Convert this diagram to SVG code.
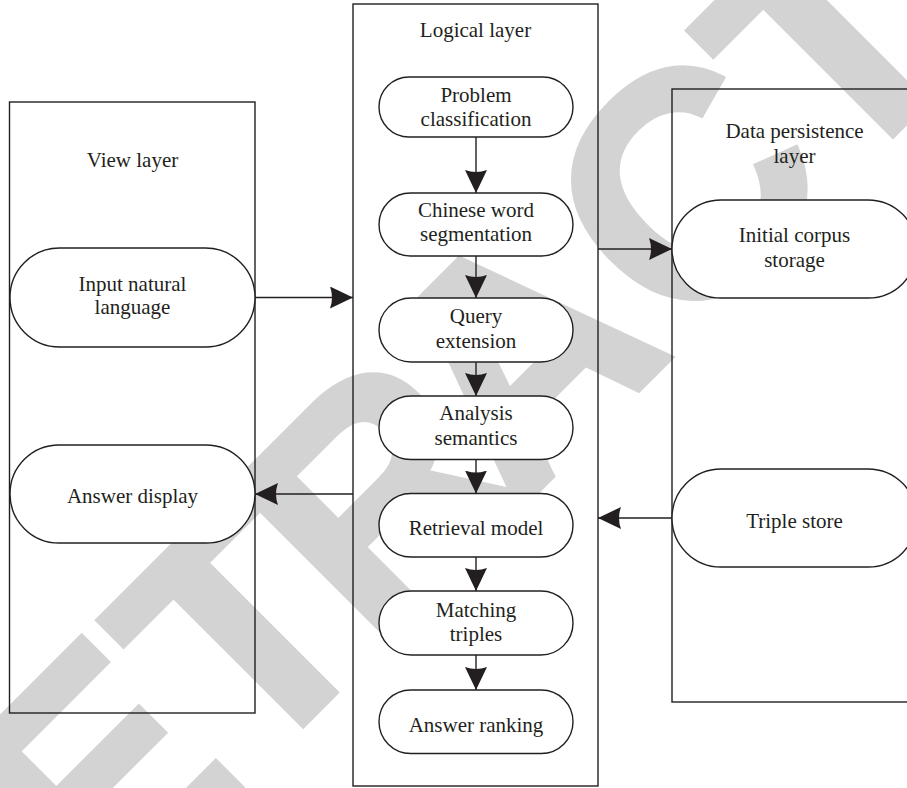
<svg xmlns="http://www.w3.org/2000/svg" width="907" height="788" viewBox="0 0 907 788">
<defs>
<style>
.box{fill:none;stroke:#231f20;stroke-width:1.4}
.pill{fill:#ffffff;stroke:#231f20;stroke-width:1.4}
.lbl{font-family:"Liberation Serif","Times New Roman",serif;font-size:21px;fill:#231f20;text-anchor:middle}
.conn line{stroke:#231f20;stroke-width:1.4;marker-end:url(#ah)}
.wm{font-family:"Liberation Sans",Arial,sans-serif;font-weight:bold;font-size:318px;fill:#d3d3d3;stroke:#d3d3d3;stroke-width:6;stroke-linejoin:miter}
</style>
<marker id="ah" markerUnits="userSpaceOnUse" viewBox="0 0 23 22" markerWidth="23" markerHeight="22" refX="23" refY="11" orient="auto">
<path d="M0,0 L23,11 L0,22 Q4,11 0,0 Z" fill="#231f20"/>
</marker>
</defs>
<rect width="907" height="788" fill="#ffffff"/>
<g id="watermark">
<text class="wm" transform="rotate(-45)" x="-798 -586 -372.5 -197 0 237 461.6 638 832" y="727">RETRACTED</text>
</g>
<g id="view-layer">
<rect class="box" x="9.5" y="102" width="245.5" height="611"/>
<text class="lbl" x="132.5" y="167">View layer</text>
</g>
<g id="logical-layer">
<rect class="box" x="353" y="4" width="245" height="782"/>
<text class="lbl" x="475.5" y="37">Logical layer</text>
</g>
<g id="data-layer">
<rect class="box" x="672" y="89" width="245" height="613"/>
<text class="lbl" x="794.5" y="138">Data persistence</text>
<text class="lbl" x="794.5" y="163">layer</text>
</g>
<g id="input-natural-language">
<rect class="pill" x="10" y="248" width="245" height="99" rx="49.5"/>
<text class="lbl" x="132.5" y="291">Input natural</text>
<text class="lbl" x="132.5" y="314">language</text>
</g>
<g id="answer-display">
<rect class="pill" x="10" y="445" width="245" height="98" rx="49"/>
<text class="lbl" x="132.5" y="503">Answer display</text>
</g>
<g id="problem-classification">
<rect class="pill" x="379" y="77" width="194" height="60" rx="30"/>
<text class="lbl" x="476" y="102">Problem</text>
<text class="lbl" x="476" y="126">classification</text>
</g>
<g id="chinese-word-segmentation">
<rect class="pill" x="379" y="193" width="194" height="63" rx="31.5"/>
<text class="lbl" x="476" y="217">Chinese word</text>
<text class="lbl" x="476" y="241">segmentation</text>
</g>
<g id="query-extension">
<rect class="pill" x="379" y="298" width="194" height="64" rx="32"/>
<text class="lbl" x="476" y="322.5">Query</text>
<text class="lbl" x="476" y="347.5">extension</text>
</g>
<g id="analysis-semantics">
<rect class="pill" x="379" y="396" width="194" height="63.5" rx="31.75"/>
<text class="lbl" x="476" y="420">Analysis</text>
<text class="lbl" x="476" y="445">semantics</text>
</g>
<g id="retrieval-model">
<rect class="pill" x="379" y="493.5" width="194" height="63.5" rx="31.75"/>
<text class="lbl" x="476" y="535">Retrieval model</text>
</g>
<g id="matching-triples">
<rect class="pill" x="379" y="591" width="194" height="64" rx="32"/>
<text class="lbl" x="476" y="617">Matching</text>
<text class="lbl" x="476" y="641">triples</text>
</g>
<g id="answer-ranking">
<rect class="pill" x="379" y="690" width="194" height="63.5" rx="31.75"/>
<text class="lbl" x="476" y="732">Answer ranking</text>
</g>
<g id="initial-corpus-storage">
<rect class="pill" x="672" y="200" width="245" height="98" rx="49"/>
<text class="lbl" x="794.5" y="241.5">Initial corpus</text>
<text class="lbl" x="794.5" y="266.5">storage</text>
</g>
<g id="triple-store">
<rect class="pill" x="672" y="469" width="245" height="98" rx="49"/>
<text class="lbl" x="794.5" y="528">Triple store</text>
</g>
<g id="connectors" class="conn">
<line x1="476" y1="137" x2="476" y2="193"/>
<line x1="476" y1="256" x2="476" y2="298"/>
<line x1="476" y1="362" x2="476" y2="396"/>
<line x1="476" y1="459.5" x2="476" y2="493.5"/>
<line x1="476" y1="557" x2="476" y2="591"/>
<line x1="476" y1="655" x2="476" y2="690"/>
<line x1="255" y1="297.5" x2="353" y2="297.5"/>
<line x1="598" y1="249" x2="672" y2="249"/>
<line x1="672" y1="518" x2="598" y2="518"/>
<line x1="353" y1="494" x2="255" y2="494"/>
</g>
</svg>
